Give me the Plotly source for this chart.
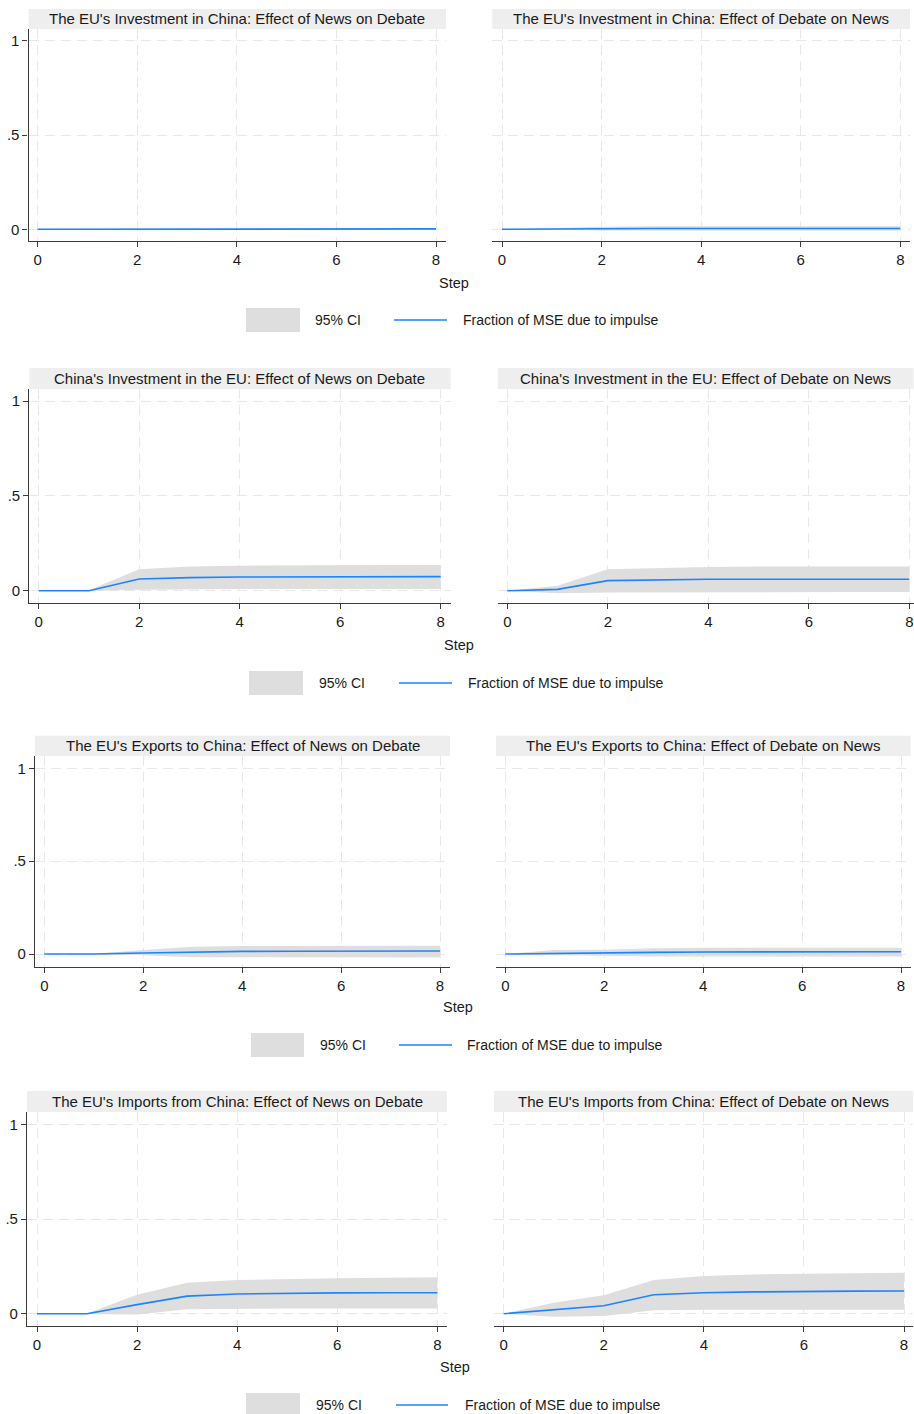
import plotly.graph_objects as go

# ---------------- data ----------------
steps = [0, 1, 2, 3, 4, 5, 6, 7, 8]
x_tick_vals = [0, 2, 4, 6, 8]
y_tick_vals = [0, 0.5, 1]
y_tick_text = ["0", ".5", "1"]

panel_titles = [
    "The EU's Investment in China: Effect of News on Debate",
    "The EU's Investment in China: Effect of Debate on News",
    "China's Investment in the EU: Effect of News on Debate",
    "China's Investment in the EU: Effect of Debate on News",
    "The EU's Exports to China: Effect of News on Debate",
    "The EU's Exports to China: Effect of Debate on News",
    "The EU's Imports from China: Effect of News on Debate",
    "The EU's Imports from China: Effect of Debate on News",
]

# Fraction of MSE due to impulse, with 95% CI
eu_inv_news_frac = [0, 0.000, 0.002, 0.002, 0.002, 0.002, 0.002, 0.002, 0.002]
eu_inv_news_lo = [0, 0.000, -0.001, -0.001, -0.001, -0.001, -0.001, -0.001, -0.001]
eu_inv_news_hi = [0, 0.001, 0.005, 0.006, 0.006, 0.006, 0.006, 0.006, 0.006]

eu_inv_debate_frac = [0, 0.002, 0.004, 0.004, 0.004, 0.004, 0.004, 0.004, 0.004]
eu_inv_debate_lo = [0, -0.004, -0.006, -0.007, -0.007, -0.007, -0.007, -0.007, -0.007]
eu_inv_debate_hi = [0, 0.008, 0.014, 0.016, 0.016, 0.016, 0.016, 0.016, 0.016]

cn_inv_news_frac = [0, 0, 0.062, 0.069, 0.072, 0.073, 0.073, 0.074, 0.074]
cn_inv_news_lo = [0, -0.001, 0.005, 0.008, 0.009, 0.009, 0.009, 0.009, 0.009]
cn_inv_news_hi = [0, 0.002, 0.113, 0.127, 0.132, 0.134, 0.135, 0.135, 0.135]

cn_inv_debate_frac = [0, 0.007, 0.053, 0.058, 0.060, 0.060, 0.060, 0.060, 0.060]
cn_inv_debate_lo = [0, -0.014, -0.009, -0.008, -0.007, -0.007, -0.007, -0.007, -0.007]
cn_inv_debate_hi = [0, 0.026, 0.113, 0.121, 0.125, 0.127, 0.128, 0.128, 0.128]

exp_news_frac = [0, 0, 0.005, 0.011, 0.014, 0.015, 0.015, 0.016, 0.016]
exp_news_lo = [0, -0.001, -0.007, -0.017, -0.018, -0.018, -0.019, -0.019, -0.019]
exp_news_hi = [0, 0.001, 0.022, 0.039, 0.043, 0.044, 0.045, 0.045, 0.045]

exp_debate_frac = [0, 0.004, 0.006, 0.009, 0.011, 0.011, 0.012, 0.012, 0.012]
exp_debate_lo = [0, -0.007, -0.009, -0.014, -0.014, -0.014, -0.014, -0.014, -0.014]
exp_debate_hi = [0, 0.022, 0.023, 0.031, 0.033, 0.033, 0.033, 0.033, 0.033]

imp_news_frac = [0, 0, 0.048, 0.093, 0.104, 0.108, 0.110, 0.111, 0.111]
imp_news_lo = [0, -0.001, -0.004, 0.023, 0.026, 0.027, 0.027, 0.028, 0.028]
imp_news_hi = [0, 0.001, 0.100, 0.164, 0.178, 0.184, 0.187, 0.190, 0.192]

imp_debate_frac = [0, 0.021, 0.042, 0.100, 0.111, 0.115, 0.118, 0.119, 0.120]
imp_debate_lo = [0, -0.016, -0.012, 0.018, 0.021, 0.021, 0.021, 0.021, 0.021]
imp_debate_hi = [0, 0.058, 0.097, 0.178, 0.199, 0.207, 0.211, 0.214, 0.216]

series = [
    (eu_inv_news_frac, eu_inv_news_lo, eu_inv_news_hi),
    (eu_inv_debate_frac, eu_inv_debate_lo, eu_inv_debate_hi),
    (cn_inv_news_frac, cn_inv_news_lo, cn_inv_news_hi),
    (cn_inv_debate_frac, cn_inv_debate_lo, cn_inv_debate_hi),
    (exp_news_frac, exp_news_lo, exp_news_hi),
    (exp_debate_frac, exp_debate_lo, exp_debate_hi),
    (imp_news_frac, imp_news_lo, imp_news_hi),
    (imp_debate_frac, imp_debate_lo, imp_debate_hi),
]

legend_ci_label = "95% CI"
legend_line_label = "Fraction of MSE due to impulse"
x_title = "Step"

# ---------------- layout geometry (pixels) ----------------
W, H = 914, 1414
# plot area: left, right, top, bottom; tick pixel positions x=0, x=8, y=0, y=1; strip top
panels_px = [
    (28.5, 446.0, 29.0, 241.0, 37.7, 436.0, 229.3, 40.7, 9.0),
    (492.3, 910.0, 29.0, 241.0, 502.0, 900.3, 229.3, 40.7, 9.0),
    (29.3, 450.7, 389.0, 603.3, 38.7, 440.7, 590.7, 401.0, 368.0),
    (497.7, 913.5, 389.0, 603.3, 507.3, 909.3, 590.7, 401.0, 368.0),
    (35.0, 450.0, 756.0, 966.7, 44.3, 440.0, 954.0, 768.3, 735.7),
    (496.0, 910.7, 756.0, 966.7, 505.3, 901.0, 954.0, 768.3, 735.7),
    (27.0, 447.0, 1112.0, 1326.0, 37.0, 437.3, 1313.7, 1124.3, 1091.0),
    (494.0, 913.0, 1112.0, 1326.0, 503.7, 904.0, 1313.7, 1124.3, 1091.0),
]
# step label positions, legend geometry per block
step_px = [(454, 283), (459, 645), (458, 1007), (455, 1367)]
legend_px = [  # rect x0, rect x1, text1 x, line x0, line x1, text2 x, center y
    (246, 300, 313, 394, 447, 461, 320),
    (249, 303, 317, 399, 452, 466, 683),
    (251, 304, 318, 399, 452, 465, 1045),
    (246, 300, 314, 396, 448, 463, 1405),
]

FONT = "Arial, 'Liberation Sans', sans-serif"
TXT = "#1a1a1a"
AXC = "#3c3c3c"
GRID = "#e8e8e8"
CI_FILL = "#dedede"
LINE_C = "#1a85ff"
STRIP = "#eeeeee"


def xp(px):
    return px / W


def yp(py):
    return 1 - py / H


fig = go.Figure()
shapes = []
annotations = []
layout_axes = {}

for i, (title, (frac, lo, hi), geo) in enumerate(zip(panel_titles, series, panels_px)):
    L, R, T, B, x0, x8, y0, y1, stop = geo
    k = i + 1
    xa = "x" if k == 1 else f"x{k}"
    ya = "y" if k == 1 else f"y{k}"
    sx = (x8 - x0) / 8.0
    sy = (y0 - y1)
    xrange = [(L - x0) / sx, (R - x0) / sx]
    yrange = [(y0 - B) / sy, (y0 - T) / sy]
    left = (i % 2 == 0)

    fig.add_trace(go.Scatter(x=steps, y=lo, mode="lines", line=dict(width=0, color=CI_FILL),
                             showlegend=False, hoverinfo="skip", xaxis=xa, yaxis=ya))
    fig.add_trace(go.Scatter(x=steps, y=hi, mode="lines", line=dict(width=0, color=CI_FILL),
                             fill="tonexty", fillcolor=CI_FILL, showlegend=False,
                             hoverinfo="skip", xaxis=xa, yaxis=ya))
    fig.add_trace(go.Scatter(x=steps, y=frac, mode="lines", line=dict(width=1.6, color=LINE_C),
                             showlegend=False, xaxis=xa, yaxis=ya))

    xkey = "xaxis" if k == 1 else f"xaxis{k}"
    ykey = "yaxis" if k == 1 else f"yaxis{k}"
    layout_axes[xkey] = dict(
        domain=[xp(L), xp(R)], range=xrange, anchor=ya,
        tickvals=x_tick_vals, ticktext=[str(v) for v in x_tick_vals],
        showline=True, linecolor=AXC, linewidth=1.2,
        ticks="outside", ticklen=5, tickwidth=1, tickcolor=AXC,
        tickfont=dict(family=FONT, size=15, color=TXT),
        showgrid=True, gridcolor=GRID, gridwidth=1, griddash="10px,6px",
        zeroline=False, fixedrange=True,
    )
    layout_axes[ykey] = dict(
        domain=[yp(B), yp(T)], range=yrange, anchor=xa,
        tickvals=y_tick_vals, ticktext=y_tick_text,
        showline=left, linecolor=AXC, linewidth=1.2,
        ticks="outside" if left else "", ticklen=5, tickwidth=1, tickcolor=AXC,
        showticklabels=left,
        tickfont=dict(family=FONT, size=15, color=TXT),
        showgrid=True, gridcolor=GRID, gridwidth=1, griddash="10px,6px",
        zeroline=False, fixedrange=True,
    )

    # title strip
    shapes.append(dict(type="rect", xref="paper", yref="paper",
                       x0=xp(L), x1=xp(R), y0=yp(T), y1=yp(stop),
                       fillcolor=STRIP, line=dict(width=0), layer="below"))
    annotations.append(dict(text=title, xref="paper", yref="paper",
                            x=xp((L + R) / 2), y=yp((T + stop) / 2),
                            xanchor="center", yanchor="middle", showarrow=False,
                            font=dict(family=FONT, size=15, color=TXT)))

for (sx_, sy_), (r0, r1, t1, l0, l1, t2, cy) in zip(step_px, legend_px):
    annotations.append(dict(text=x_title, xref="paper", yref="paper",
                            x=xp(sx_), y=yp(sy_), xanchor="center", yanchor="middle",
                            showarrow=False, font=dict(family=FONT, size=14.5, color=TXT)))
    shapes.append(dict(type="rect", xref="paper", yref="paper",
                       x0=xp(r0), x1=xp(r1), y0=yp(cy + 12), y1=yp(cy - 12),
                       fillcolor=CI_FILL, line=dict(width=0)))
    shapes.append(dict(type="line", xref="paper", yref="paper",
                       x0=xp(l0), x1=xp(l1), y0=yp(cy), y1=yp(cy),
                       line=dict(color=LINE_C, width=1.6)))
    annotations.append(dict(text=legend_ci_label, xref="paper", yref="paper",
                            x=xp(t1), y=yp(cy), xanchor="left", yanchor="middle",
                            showarrow=False, font=dict(family=FONT, size=14, color=TXT)))
    annotations.append(dict(text=legend_line_label, xref="paper", yref="paper",
                            x=xp(t2), y=yp(cy), xanchor="left", yanchor="middle",
                            showarrow=False, font=dict(family=FONT, size=14, color=TXT)))

fig.update_layout(
    width=W, height=H, autosize=False,
    margin=dict(l=0, r=0, t=0, b=0),
    paper_bgcolor="white", plot_bgcolor="white",
    showlegend=False, shapes=shapes, annotations=annotations,
    **layout_axes,
)

fig.write_html("out.html", config={"displayModeBar": False},
               post_script="document.body.style.margin='0';document.body.style.overflow='hidden';")
